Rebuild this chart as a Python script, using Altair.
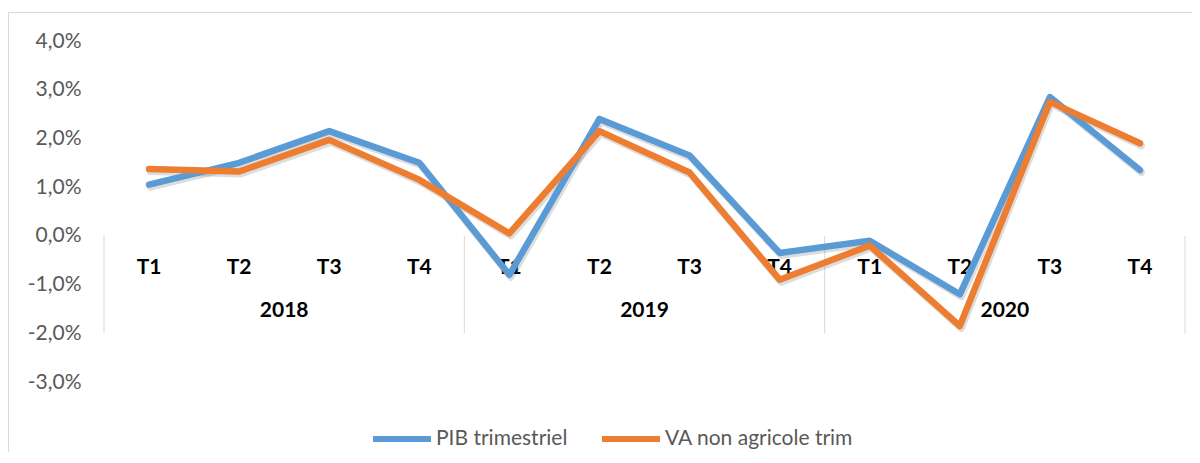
import altair as alt
import pandas as pd

years = ["2018", "2019", "2020"]
quarters = ["T1", "T2", "T3", "T4"]
series = ["PIB trimestriel", "VA non agricole trim"]
pib = [1.05, 1.50, 2.15, 1.50, -0.80, 2.40, 1.65, -0.35, -0.10, -1.20, 2.85, 1.35]
va = [1.37, 1.32, 1.97, 1.15, 0.05, 2.15, 1.30, -0.90, -0.20, -1.85, 2.75, 1.90]
colors = ["#5B9BD5", "#ED7D31"]
y_ticks = [-3, -2, -1, 0, 1, 2, 3, 4]

n = len(years) * len(quarters)
rows = []
for s, vals in zip(series, [pib, va]):
    for i, v in enumerate(vals):
        rows.append({"serie": s, "pos": i + 0.5, "valeur": v, "ordre": i})
df = pd.DataFrame(rows)

cat = pd.DataFrame({"pos": [i + 0.5 for i in range(n)],
                    "label": [q for _ in years for q in quarters]})
yr = pd.DataFrame({"pos": [len(quarters) * k + len(quarters) / 2 for k in range(len(years))],
                   "label": years})
sep = pd.DataFrame({"pos": [len(quarters) * k for k in range(len(years) + 1)]})

W, H = 1081, 341
FONT = "Lato"
GRID = "#D9D9D9"

xs = alt.Scale(domain=[0, n], nice=False, zero=False)
ys = alt.Scale(domain=[-3, 4], nice=False, zero=False)

border = alt.Chart(pd.DataFrame({"a": [0]})).mark_rect(
    fill="transparent", stroke=GRID, strokeWidth=1
).encode(
    x=alt.value(-95.5), x2=alt.value(W + 300),
    y=alt.value(-28.5), y2=alt.value(H + 300),
)

seps = alt.Chart(sep).mark_rule(color=GRID, strokeWidth=1).encode(
    x=alt.X("pos:Q", scale=xs, axis=None),
    y=alt.datum(0, type="quantitative", scale=ys),
    y2=alt.datum(-2),
)

qlab = alt.Chart(cat).mark_text(
    font=FONT, fontWeight="bold", fontSize=21, color="#000000", baseline="middle"
).encode(
    x=alt.X("pos:Q", scale=xs, axis=None),
    y=alt.datum(-0.65, type="quantitative", scale=ys),
    text="label:N",
)

ylab = alt.Chart(yr).mark_text(
    font=FONT, fontWeight="bold", fontSize=21, color="#000000", baseline="middle"
).encode(
    x=alt.X("pos:Q", scale=xs, axis=None),
    y=alt.datum(-1.55, type="quantitative", scale=ys),
    text="label:N",
)

shadow = alt.Chart(df).mark_line(
    strokeWidth=7, strokeCap="round", strokeJoin="round",
    color="#404040", opacity=0.18, xOffset=1.5, yOffset=2.5
).encode(
    x=alt.X("pos:Q", scale=xs, axis=None),
    y=alt.Y("valeur:Q", scale=ys, title=None),
    detail="serie:N",
    order="ordre:Q",
)

lines = alt.Chart(df).mark_line(
    strokeWidth=6.5, strokeCap="round", strokeJoin="round"
).encode(
    x=alt.X("pos:Q", scale=xs, axis=None),
    y=alt.Y("valeur:Q", scale=ys, title=None,
            axis=alt.Axis(values=y_ticks,
                          labelExpr="(datum.value < 0 ? '-' : '') + replace(format(abs(datum.value), '.1f'), '.', ',') + '%'")),
    color=alt.Color("serie:N", scale=alt.Scale(domain=series, range=colors),
                    legend=alt.Legend(orient="none", legendX=266, legendY=366,
                                      direction="horizontal", title=None,
                                      symbolType="stroke", symbolSize=3364,
                                      symbolStrokeWidth=6, labelFontSize=21,
                                      labelColor="#595959", labelFont=FONT,
                                      labelLimit=400,
                                      columnPadding=22, labelOffset=2, padding=0)),
    order="ordre:Q",
)

chart = alt.layer(border, seps, qlab, ylab, shadow, lines).properties(
    width=W, height=H,
    padding={"left": 96, "top": 33, "right": 7, "bottom": 70},
    autosize=alt.AutoSizeParams(type="none"),
).configure_axisY(
    domain=False, ticks=False, labelPadding=23, labelFontSize=21,
    labelColor="#595959", labelFont=FONT, gridColor=GRID, gridWidth=1, title=None,
).configure_view(stroke=None)

chart.save("out.html", embed_options={"renderer": "svg", "actions": False})
